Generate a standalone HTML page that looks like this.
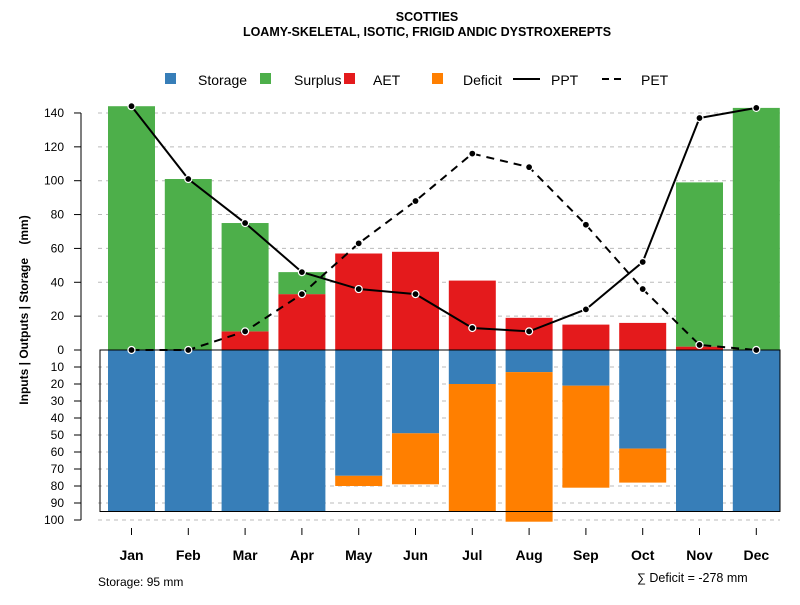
<!DOCTYPE html>
<html><head><meta charset="utf-8"><style>
body{margin:0;background:#fff;font-family:"Liberation Sans",sans-serif}
svg text{font-family:"Liberation Sans",sans-serif}
</style></head><body>
<svg id="c" width="800" height="600" xmlns="http://www.w3.org/2000/svg">
<text x="427" y="21" text-anchor="middle" font-size="12.5" font-weight="bold">SCOTTIES</text>
<text x="427" y="36" text-anchor="middle" font-size="12.5" font-weight="bold">LOAMY-SKELETAL, ISOTIC, FRIGID ANDIC DYSTROXEREPTS</text>
<g id="legend" font-size="14">
<rect x="165" y="73" width="11" height="11" fill="#377eb8"/>
<text x="198" y="85">Storage</text>
<rect x="260" y="73" width="11" height="11" fill="#4daf4a"/>
<text x="294" y="85">Surplus</text>
<rect x="344" y="73" width="11" height="11" fill="#e41a1c"/>
<text x="373" y="85">AET</text>
<rect x="432" y="73" width="11" height="11" fill="#ff7f00"/>
<text x="463" y="85">Deficit</text>
<line x1="513" y1="79" x2="540" y2="79" stroke="#000" stroke-width="2"/>
<text x="551" y="85">PPT</text>
<line x1="602" y1="79" x2="625" y2="79" stroke="#000" stroke-width="2" stroke-dasharray="7,5"/>
<text x="641" y="85">PET</text>
</g>
<text xml:space="preserve" style="white-space:pre" transform="translate(28,310) rotate(-90)" text-anchor="middle" font-size="12" font-weight="bold">Inputs | Outputs | Storage    (mm)</text>
<text x="98" y="586" font-size="12">Storage: 95 mm</text>
<text x="637" y="582" font-size="12.5">∑ Deficit = -278 mm</text>
</svg>
<script>
const months=["Jan","Feb","Mar","Apr","May","Jun","Jul","Aug","Sep","Oct","Nov","Dec"];
const surplus=[144,101,64,13,0,0,0,0,0,0,97,143];
const aet=[0,0,11,33,57,58,41,19,15,16,2,0];
const storage=[95,95,95,95,74,49,20,13,21,58,95,95];
const deficit=[0,0,0,0,6,30,75,88,60,20,0,0];
const ppt=[144,101,75,46,36,33,13,11,24,52,137,143];
const pet=[0,0,11,33,63,88,116,108,74,36,3,0];
const upTicks=[0,20,40,60,80,100,120,140];
const downTicks=[10,20,30,40,50,60,70,80,90,100];
const capacity=95;
const NS="http://www.w3.org/2000/svg";
const svg=document.getElementById('c');
const y0=350;
const yUp=v=>y0-v*1.693;
const yDn=v=>y0+v*1.7;
const xC=i=>131.5+i*56.8;
const bw=47;
function mk(tag,attrs,parent){const e=document.createElementNS(NS,tag);for(const k in attrs)e.setAttribute(k,attrs[k]);(parent||svg).appendChild(e);return e;}
const grid=mk('g',{});


upTicks.forEach(t=>{if(t>0){const l=mk('line',{x1:98,x2:780,y1:yUp(t),y2:yUp(t),stroke:'#bbb','stroke-dasharray':'4,4'},grid);}});
downTicks.forEach(t=>{const l=mk('line',{x1:98,x2:780,y1:yDn(t),y2:yDn(t),stroke:'#bbb','stroke-dasharray':'4,4'},grid);});
const bars=mk('g',{});


months.forEach((m,i)=>{
 const x=xC(i)-bw/2;
 if(aet[i]>0){const r=mk('rect',{x:x,y:yUp(aet[i]),width:bw,height:yUp(0)-yUp(aet[i]),fill:'#e41a1c'},bars);}
 if(surplus[i]>0){const r=mk('rect',{x:x,y:yUp(aet[i]+surplus[i]),width:bw,height:yUp(aet[i])-yUp(aet[i]+surplus[i]),fill:'#4daf4a'},bars);}
 if(storage[i]>0){const r=mk('rect',{x:x,y:y0,width:bw,height:yDn(storage[i])-y0,fill:'#377eb8'},bars);}
 if(deficit[i]>0){const r=mk('rect',{x:x,y:yDn(storage[i]),width:bw,height:yDn(storage[i]+deficit[i])-yDn(storage[i]),fill:'#ff7f00'},bars);}
});
const box=mk('rect',{x:100,y:y0,width:680,height:yDn(capacity)-y0,fill:'none',stroke:'#000','stroke-width':1});


function line(data,dash,name){
 const p=mk('polyline',{points:data.map((v,i)=>xC(i)+','+yUp(v)).join(' '),fill:'none',stroke:'#000','stroke-width':2,'stroke-dasharray':dash});
 
 
 data.forEach((v,i)=>{const c=mk('circle',{cx:xC(i),cy:yUp(v),r:3.5,fill:'#000',stroke:'#fff','stroke-width':1.2});});
}
line(pet,'8,6','pet-line');
line(ppt,'none','ppt-line');
const ax=mk('g',{});


mk('line',{x1:81,x2:81,y1:yUp(140),y2:yDn(100),stroke:'#555','stroke-width':1.5},ax);
upTicks.forEach(t=>{mk('line',{x1:74,x2:81,y1:yUp(t),y2:yUp(t),stroke:'#000'},ax);const tx=mk('text',{x:64,y:yUp(t)+4,'text-anchor':'end','font-size':12},ax);tx.textContent=t;});
downTicks.forEach(t=>{mk('line',{x1:74,x2:81,y1:yDn(t),y2:yDn(t),stroke:'#000'},ax);const tx=mk('text',{x:64,y:yDn(t)+4,'text-anchor':'end','font-size':12},ax);tx.textContent=t;});
const xa=mk('g',{});


months.forEach((m,i)=>{mk('line',{x1:xC(i),x2:xC(i),y1:528,y2:535,stroke:'#000'},xa);const tx=mk('text',{x:xC(i),y:560,'text-anchor':'middle','font-size':14,'font-weight':'bold'},xa);tx.textContent=m;});
</script>
</body></html>
